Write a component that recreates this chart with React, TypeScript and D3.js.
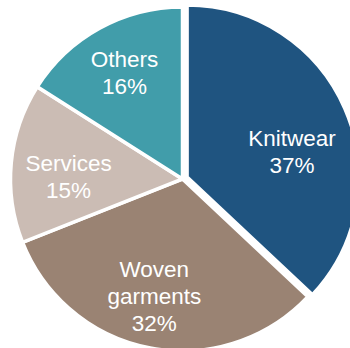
import React from "react";
import * as d3 from "d3";

const categories = ["Knitwear", "Woven\ngarments", "Services", "Others"];
const values = [37, 32, 15, 16];
const colors = ["#1F5480", "#9A8373", "#CBBCB4", "#419DAA"];

const W = 350;
const H = 348;
const cx = 182.5;
const cy = 179;
const R = 172;
const explode = [5, 0, 0, 0];
// label placement: [radius, angle nudge in degrees]
const labelPlace = [
  [113, 9.3],
  [120, 2.8],
  [114, -4.2],
  [121, 0.2],
];

export default function App() {
  const pie = d3.pie<number>().sort(null).value((d) => d)(values);
  const arc = d3.arc<d3.PieArcDatum<number>>().innerRadius(0).outerRadius(R);
  return (
    <svg
      width={W}
      height={H}
      style={{ position: "absolute", left: 0, top: 0 }}
      fontFamily="'Liberation Sans', Arial, sans-serif"
    >
      <g transform={`translate(${cx},${cy})`}>
        {pie.map((p, i) => {
          const mid = (p.startAngle + p.endAngle) / 2;
          const dx = Math.sin(mid) * explode[i];
          const dy = -Math.cos(mid) * explode[i];
          return (
            <path
              key={i}
              d={arc(p) || ""}
              transform={`translate(${dx},${dy})`}
              fill={colors[i]}
              stroke="#fff"
              strokeWidth={3.5}
              strokeLinejoin="miter"
            />
          );
        })}
        {pie.map((p, i) => {
          const mid = (p.startAngle + p.endAngle) / 2 + (labelPlace[i][1] * Math.PI) / 180;
          const r = labelPlace[i][0];
          const x = Math.sin(mid) * r;
          const y = -Math.cos(mid) * r;
          const lines = [...categories[i].split("\n"), `${values[i]}%`];
          const lh = 27;
          const y0 = y - ((lines.length - 1) * lh) / 2 + 8;
          return (
            <text key={"t" + i} x={x} y={y0} fill="#fff" fontSize={22.5} textAnchor="middle">
              {lines.map((l, j) => (
                <tspan key={j} x={x} y={y0 + j * lh}>
                  {l}
                </tspan>
              ))}
            </text>
          );
        })}
      </g>
    </svg>
  );
}
